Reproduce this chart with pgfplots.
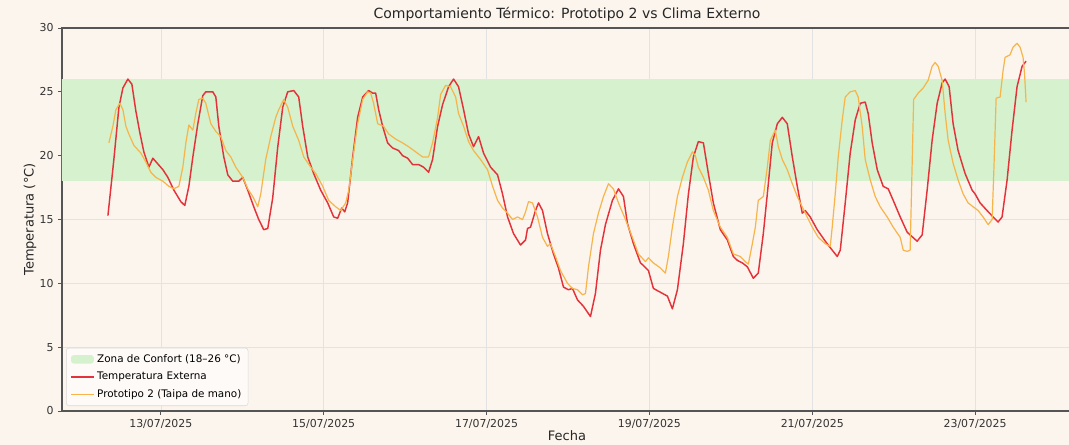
\documentclass[border=0pt]{standalone}
\usepackage{fontspec}
\setmainfont{DejaVu Sans}
\usepackage{pgfplots}
\pgfplotsset{compat=1.18}
\usepackage{pgfplotstable}

\definecolor{bgcream}{RGB}{252,245,237}
\definecolor{zona}{RGB}{213,241,205}
\definecolor{ext}{RGB}{228,50,58}
\definecolor{proto}{RGB}{246,180,74}
\definecolor{spine}{RGB}{85,85,85}

% dia (13 = 13/07/2025 00:00), temperatura en C
\pgfplotstableread{
d T
12.350 15.3
12.423 19.7
12.485 23.8
12.534 25.3
12.595 26.0
12.644 25.6
12.693 23.5
12.742 21.8
12.791 20.3
12.853 19.1
12.902 19.8
13.025 18.9
13.086 18.3
13.160 17.3
13.245 16.4
13.294 16.1
13.344 17.6
13.393 19.9
13.454 22.5
13.515 24.7
13.552 25.0
13.638 25.0
13.675 24.6
13.712 22.3
13.773 19.9
13.822 18.5
13.883 18.0
13.957 18.0
14.006 18.3
14.067 17.3
14.141 16.0
14.202 15.0
14.264 14.2
14.313 14.3
14.374 16.7
14.436 20.7
14.497 23.8
14.558 25.0
14.632 25.1
14.693 24.6
14.742 22.3
14.804 19.9
14.877 18.6
14.963 17.3
15.049 16.3
15.123 15.2
15.172 15.1
15.221 15.9
15.258 15.6
15.294 16.3
15.356 19.9
15.417 23.0
15.479 24.6
15.552 25.1
15.601 24.9
15.638 24.9
15.675 23.6
15.724 22.3
15.785 21.0
15.847 20.6
15.920 20.4
15.969 20.0
16.031 19.8
16.092 19.3
16.166 19.3
16.227 19.1
16.288 18.7
16.337 19.7
16.399 22.3
16.460 24.0
16.534 25.4
16.595 26.0
16.656 25.4
16.718 23.6
16.779 21.7
16.840 20.7
16.902 21.5
16.963 20.2
17.049 19.1
17.135 18.5
17.196 17.0
17.258 15.2
17.331 13.9
17.417 13.0
17.479 13.4
17.503 14.3
17.540 14.4
17.601 15.7
17.638 16.3
17.687 15.7
17.748 13.9
17.822 12.3
17.883 11.2
17.945 9.7
18.006 9.5
18.055 9.6
18.117 8.7
18.190 8.2
18.276 7.4
18.337 9.2
18.399 12.6
18.460 14.6
18.546 16.5
18.620 17.4
18.681 16.8
18.730 14.7
18.804 13.1
18.890 11.6
18.926 11.4
18.988 11.0
19.049 9.6
19.135 9.3
19.221 9.0
19.282 8.0
19.344 9.5
19.417 13.1
19.479 17.0
19.540 19.9
19.601 21.1
19.663 21.0
19.724 18.6
19.785 16.3
19.871 14.2
19.957 13.4
20.031 12.1
20.080 11.8
20.141 11.6
20.202 11.3
20.276 10.4
20.337 10.8
20.399 13.9
20.448 17.0
20.509 21.0
20.571 22.5
20.632 23.0
20.693 22.5
20.755 19.9
20.816 17.6
20.877 15.5
20.914 15.7
20.975 15.2
21.061 14.2
21.160 13.3
21.245 12.6
21.307 12.1
21.344 12.6
21.405 16.3
21.466 20.2
21.528 22.8
21.589 24.1
21.650 24.2
21.687 23.3
21.736 21.0
21.798 18.9
21.871 17.6
21.933 17.4
21.994 16.5
22.080 15.2
22.166 14.0
22.288 13.3
22.350 13.8
22.411 17.3
22.472 21.2
22.534 24.1
22.595 25.7
22.632 26.0
22.681 25.4
22.730 22.5
22.791 20.4
22.877 18.6
22.963 17.3
23.000 17.0
23.061 16.3
23.147 15.7
23.221 15.2
23.282 14.8
23.331 15.2
23.393 18.1
23.454 22.0
23.515 25.4
23.577 27.0
23.626 27.4
}\dataext

\pgfplotstableread{
d T
12.362 21.0
12.411 22.3
12.448 23.6
12.497 24.1
12.534 23.6
12.571 22.3
12.607 21.7
12.669 20.8
12.755 20.2
12.816 19.5
12.877 18.7
12.939 18.3
13.025 18.0
13.098 17.6
13.160 17.4
13.221 17.6
13.270 19.1
13.307 21.0
13.344 22.4
13.393 22.0
13.429 23.3
13.466 24.4
13.515 24.5
13.552 24.1
13.614 22.5
13.675 21.9
13.736 21.5
13.798 20.4
13.859 19.9
13.920 19.1
14.006 18.3
14.067 17.4
14.129 16.8
14.190 16.0
14.227 17.0
14.288 19.7
14.350 21.5
14.411 23.0
14.448 23.6
14.509 24.4
14.558 23.8
14.620 22.3
14.693 21.2
14.755 19.9
14.841 19.1
14.902 18.6
14.988 17.6
15.061 16.5
15.147 16.0
15.209 15.7
15.270 16.3
15.307 17.3
15.356 19.7
15.417 22.5
15.479 24.4
15.540 25.0
15.577 24.9
15.613 24.1
15.663 22.5
15.736 22.3
15.798 21.7
15.883 21.3
15.969 21.0
16.043 20.7
16.129 20.3
16.215 19.9
16.288 19.9
16.337 21.0
16.399 23.0
16.436 24.8
16.497 25.5
16.558 25.4
16.620 24.6
16.656 23.3
16.718 22.3
16.779 21.1
16.840 20.4
16.926 19.7
17.012 18.9
17.074 17.6
17.135 16.5
17.196 15.9
17.258 15.5
17.319 15.0
17.380 15.2
17.442 15.0
17.479 15.6
17.515 16.4
17.564 16.3
17.626 15.2
17.687 13.6
17.748 12.9
17.785 13.1
17.847 12.1
17.908 11.0
17.994 10.0
18.055 9.6
18.117 9.5
18.178 9.1
18.215 9.2
18.252 11.3
18.313 13.9
18.374 15.5
18.436 16.8
18.497 17.8
18.558 17.4
18.620 16.3
18.706 15.0
18.791 13.6
18.865 12.3
18.951 11.7
18.988 12.0
19.049 11.6
19.135 11.2
19.196 10.8
19.233 12.1
19.282 14.4
19.344 16.8
19.405 18.3
19.466 19.5
19.528 20.3
19.564 20.0
19.601 19.1
19.663 18.3
19.724 17.3
19.785 15.7
19.871 14.4
19.957 13.6
20.031 12.3
20.117 12.1
20.178 11.7
20.215 11.5
20.264 13.1
20.301 14.4
20.337 16.5
20.399 16.8
20.448 19.1
20.485 21.2
20.546 22.0
20.583 20.7
20.632 19.7
20.693 18.9
20.755 17.8
20.816 16.8
20.853 16.3
20.914 15.5
21.000 14.4
21.074 13.6
21.160 13.1
21.221 12.9
21.245 14.4
21.282 17.0
21.319 19.9
21.368 22.8
21.405 24.6
21.466 25.0
21.528 25.1
21.564 24.6
21.613 22.3
21.650 19.7
21.712 18.1
21.773 16.8
21.834 16.0
21.920 15.2
21.994 14.4
22.080 13.6
22.117 12.6
22.166 12.5
22.202 12.6
22.227 19.4
22.245 24.4
22.301 24.9
22.362 25.3
22.423 25.9
22.472 27.0
22.509 27.3
22.546 27.0
22.595 25.9
22.632 23.3
22.669 21.2
22.730 19.4
22.791 18.1
22.853 17.0
22.914 16.3
22.975 16.0
23.037 15.7
23.098 15.2
23.160 14.6
23.209 15.0
23.233 19.4
23.258 24.5
23.307 24.6
23.344 26.7
23.368 27.7
23.429 27.9
23.466 28.5
23.515 28.8
23.552 28.5
23.589 27.7
23.607 26.4
23.626 24.2
}\dataproto

\begin{document}
\begin{tikzpicture}
\fill[bgcream] (-46.5pt,-25.5pt) rectangle (755.25pt,308.25pt);
\begin{axis}[
  scale only axis,
  width=757.5pt, height=287.25pt,
  xmin=11.786, xmax=24.19,
  ymin=0, ymax=30,
  axis background/.style={fill=bgcream},
  axis line style={spine, line width=0.8pt},
  xtick={13,15,17,19,21,23},
  xticklabels={13/07/2025,15/07/2025,17/07/2025,19/07/2025,21/07/2025,23/07/2025},
  ytick={0,5,10,15,20,25,30},
  tick pos=left,
  tick align=outside,
  major tick length=2.8pt,
  tick style={spine, line width=0.6pt},
  grid=major,
  grid style={gray!22, line width=0.5pt},
  /pgf/number format/assume math mode=true,
  tick label style={font=\fontsize{8.2}{9}\selectfont, text=black!80},
  title={Comportamiento Térmico: Prototipo 2 vs Clima Externo},
  title style={font=\fontsize{10.5}{12}\selectfont, text=black!85, at={(axis description cs:0.5,1.0235)}, anchor=base, yshift=-6pt},
  xlabel={Fecha},
  xlabel style={font=\fontsize{9.75}{11}\selectfont, text=black!85, at={(axis description cs:0.5,-0.0766)}, anchor=base},
  ylabel={Temperatura (°C)},
  ylabel style={font=\fontsize{9.75}{11}\selectfont, text=black!85, at={(axis description cs:-0.0317,0.5)}, anchor=center},
  legend style={at={(0.004,0.013)}, anchor=south west, draw=gray!30, fill=white!55!bgcream,
    font=\fontsize{7.8}{9}\selectfont, rounded corners=2pt, row sep=1.6pt, inner sep=3pt},
  legend cell align=left,
]
\addplot[fill=zona, draw=none,
  legend image code/.code={\fill[zona] (0cm,-0.1cm) rectangle (0.6cm,0.12cm);}]
  coordinates {(11.5,18) (24.5,18) (24.5,26) (11.5,26)} -- cycle;
\addlegendentry{Zona de Confort (18–26 °C)}
\addplot[ext, line width=1.1pt, line join=round] table[x=d, y=T] {\dataext};
\addlegendentry{Temperatura Externa}
\addplot[proto, line width=0.9pt, line join=round] table[x=d, y=T] {\dataproto};
\addlegendentry{Prototipo 2 (Taipa de mano)}
\end{axis}
\pgfresetboundingbox
\useasboundingbox (-46.5pt,-25.5pt) rectangle (755.25pt,308.25pt);
\end{tikzpicture}
\end{document}
